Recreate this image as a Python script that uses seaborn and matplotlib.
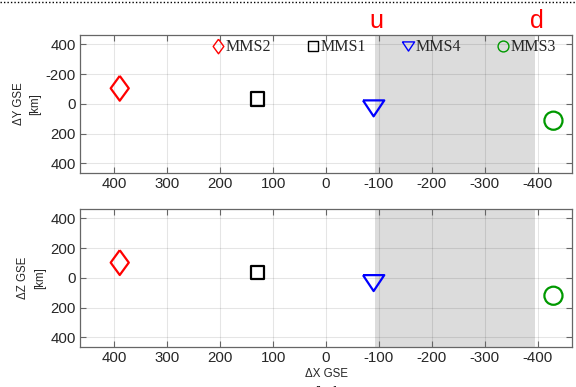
import matplotlib
matplotlib.use("Agg")
import matplotlib.pyplot as plt
import seaborn as sns
import numpy as np
from matplotlib.lines import Line2D

sns.set_theme(style="white")
plt.rcParams['font.family'] = ['Liberation Sans', 'DejaVu Sans']

# Data
spacecraft = ["MMS2", "MMS1", "MMS4", "MMS3"]
dx = [390, 130, -90, -430]
dy = [-105, -33, 30, 113]
dz = [-103, -34, 35, 120]
colors = ["#ff0000", "#000000", "#0000ff", "#009900"]

xticks = [400, 300, 200, 100, 0, -100, -200, -300, -400]
yticks = [-400, -200, 0, 200, 400]
ytick_labels_top = ["400", "-200", "0", "200", "400"]
ytick_labels_bot = ["400", "200", "0", "200", "400"]
shade = (-93, -395)

# marker shapes (style only)
diamond = [(0, 1), (0.73, 0), (0, -1), (-0.73, 0), (0, 1)]
tri_down = [(-1, 0.75), (1, 0.75), (0, -0.75), (-1, 0.75)]
markers_ = [diamond, "s", tri_down, "o"]
sizes = [320, 88, 235, 170]
legend_ms = [10.5, 6.5, 8.8, 7.8]

fig = plt.figure(figsize=(5.76, 3.87), dpi=100)
ax1 = fig.add_axes([0.139, 0.553, 0.854, 0.357])
ax2 = fig.add_axes([0.139, 0.1034, 0.854, 0.357])

for ax, yv, ylab, ylbls in [(ax1, dy, "\u0394Y GSE\n[km]", ytick_labels_top),
                            (ax2, dz, "\u0394Z GSE\n[km]", ytick_labels_bot)]:
    ax.axvspan(shade[0], shade[1], color="#dcdcdc", zorder=1, lw=0)
    for i in range(len(spacecraft)):
        sns.scatterplot(x=[dx[i]], y=[yv[i]], marker=markers_[i], s=sizes[i],
                        facecolors="none", edgecolor=colors[i], linewidth=1.6,
                        ax=ax, zorder=5)
    ax.set_xlim(465, -465)
    ax.set_ylim(465, -465)
    ax.set_xticks(xticks)
    ax.set_xticklabels([str(t) for t in xticks])
    ax.set_yticks(yticks)
    ax.set_yticklabels(ylbls)
    ax.set_axisbelow('line')
    ax.grid(True, color="black", alpha=0.1, lw=0.8)
    ax.tick_params(direction="in", length=4, width=0.8, colors="#666666",
                   labelcolor="#262626", labelsize=10.8, top=True, right=True,
                   bottom=True, left=True, pad=3)
    for sp in ax.spines.values():
        sp.set_color("#666666")
        sp.set_linewidth(0.9)
    ax.set_ylabel(ylab, fontsize=8.3, color="#262626", labelpad=3, linespacing=1.55)
    ax.set_xlabel("")

ax2.set_xlabel("\u0394X GSE\n[km]", fontsize=8.3, color="#262626", labelpad=2, linespacing=1.7)

handles = [Line2D([], [], linestyle="none", marker=markers_[i], markersize=legend_ms[i],
                  markerfacecolor="none", markeredgecolor=colors[i], markeredgewidth=1.0,
                  label=spacecraft[i])
           for i in range(len(spacecraft))]
ax1.legend(handles=handles, ncol=4, frameon=False, loc="center right",
           bbox_to_anchor=(1.0, 0.91), handlelength=0.8, handletextpad=0.1,
           columnspacing=2.2, prop={"family": "Liberation Serif", "size": 11.5},
           borderaxespad=0.6)

trans = matplotlib.transforms.blended_transform_factory(ax1.transData, fig.transFigure)
ax1.text(-96, 0.945, "u", color="#ff0000", fontsize=18, ha="center", va="center",
         transform=trans)
ax1.text(-399, 0.945, "d", color="#ff0000", fontsize=18, ha="center", va="center",
         transform=trans)

fig.add_artist(Line2D([0, 1], [0.995, 0.995], transform=fig.transFigure,
                      color="black", linestyle=(0, (1, 1.5)), lw=1.0))

fig.savefig("out.png", dpi=100)
